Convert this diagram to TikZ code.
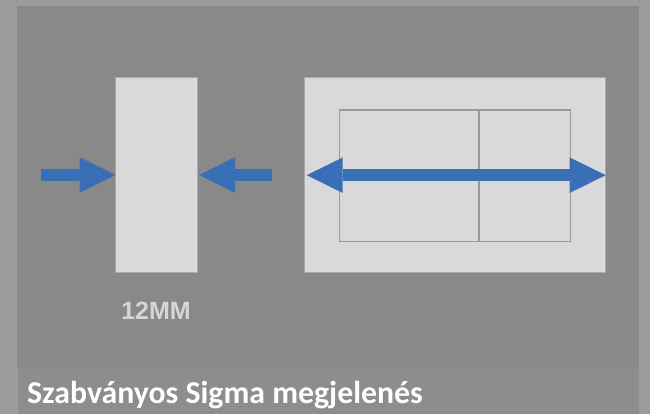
\documentclass[tikz,border=0pt]{standalone}
\usepackage{fontspec}
\setmainfont{Liberation Sans}
\newfontfamily\capfont{Carlito}
\usetikzlibrary{arrows.meta}
\definecolor{outerbg}{HTML}{9B9B9B}
\definecolor{panelbg}{HTML}{898989}
\definecolor{capbg}{HTML}{8D8D8D}
\definecolor{shapefill}{HTML}{D9D9D9}
\definecolor{shapeline}{HTML}{ABABAB}
\definecolor{gridline}{HTML}{9A9A9A}
\definecolor{arrowblue}{HTML}{3A6FB8}
\definecolor{labelgray}{HTML}{D6D6D6}
\tikzset{headtip/.tip={Triangle[length=36pt,width=35.5pt,line width=0pt]}}
\begin{document}
\begin{tikzpicture}[x=1pt,y=1pt,
  plate/.style={draw=shapeline, line width=1pt, fill=shapefill, inner sep=0pt, outer sep=0pt},
  cell/.style={draw=gridline, line width=1.5pt, inner sep=0pt, outer sep=0pt},
  blockarrow/.style={draw=arrowblue, fill=arrowblue, line width=12pt},
  mmlabel/.style={text=labelgray, font=\fontsize{25}{25}\selectfont\bfseries, inner sep=0pt, anchor=base},
  caption/.style={text=white, font=\capfont\fontsize{31.8}{32}\selectfont\bfseries, inner sep=0pt, anchor=base west}]
\useasboundingbox (0,0) rectangle (650,414);
% backgrounds
\fill[outerbg] (0,0) rectangle (650,414);
\fill[panelbg] (16.7,47.3) rectangle (639,408.3);
\fill[capbg] (18.3,0) rectangle (638.5,47.3);
% narrow plate
\node[plate, minimum width=81.3pt, minimum height=195.4pt] (small) at (156.35,239) {};
% wide plate
\node[plate, minimum width=301.4pt, minimum height=195pt] (big) at (455,238.8) {};
% inner grid cells
\node[cell, minimum width=139.7pt, minimum height=65.8pt] (c11) at (409.15,271.1) {};
\node[cell, minimum width=91.7pt, minimum height=65.8pt] (c12) at (524.85,271.1) {};
\node[cell, minimum width=139.7pt, minimum height=65.9pt] (c21) at (409.15,205.2) {};
\node[cell, minimum width=91.7pt, minimum height=65.9pt] (c22) at (524.85,205.2) {};
% arrows
\coordinate (la) at (41,239);
\coordinate (ra) at (272.3,239);
\draw[blockarrow, -{headtip}] (la) -- (small.west);
\draw[blockarrow, -{headtip}] (ra) -- ([xshift=2pt]small.east);
\draw[blockarrow, {headtip}-{headtip}] ([xshift=2.4pt]big.west) -- (big.east);
% labels
\node[mmlabel] (mm) at (156,94.7) {12MM};
\node[caption] (cap) at (27,10.7) {Szabványos Sigma megjelenés};
\end{tikzpicture}
\end{document}
